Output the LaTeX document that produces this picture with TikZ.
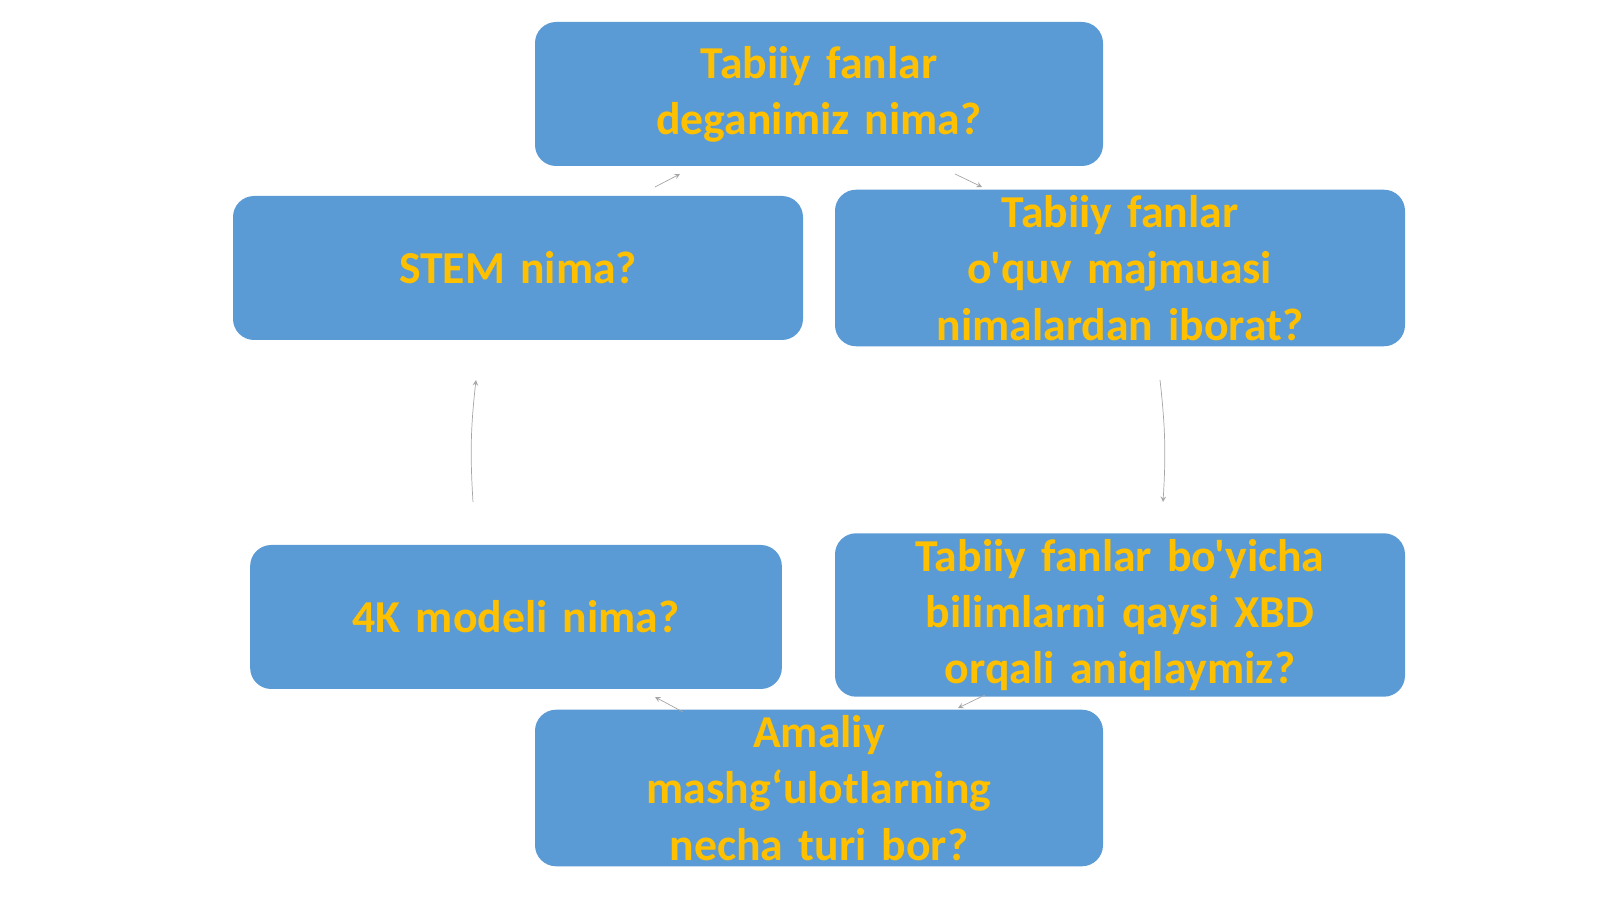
\documentclass[tikz,border=0pt]{standalone}
\usepackage{fontspec}
\defaultfontfeatures[\rmfamily]{}
\setmainfont{Carlito}
\usetikzlibrary{positioning}
\definecolor{boxblue}{HTML}{5B9BD5}
\definecolor{qgold}{HTML}{FFC000}
\newcommand\qfont{\bfseries\fontsize{26}{32}\selectfont\hyphenpenalty=10000\relax}
\tikzset{
  qbox/.style={draw=none,fill=boxblue,rounded corners=12pt,minimum height=2.88cm,
    text width=10.4cm,align=center,text=qgold,font=\qfont},
  link/.style={->,draw=gray!70,thin,>=stealth}
}
\begin{document}
\begin{tikzpicture}
  \useasboundingbox (0,0) rectangle (32,17.98);
  \node[qbox,minimum width=11.36cm] (what) at (16.38,16.10) {Tabiiy fanlar deganimiz nima?};
  \node[qbox,minimum width=11.4cm] (stem) at (10.36,12.62) {STEM nima?};
  \node[qbox,minimum width=11.4cm] (kit) at (22.4,12.62) {Tabiiy fanlar o'quv majmuasi nimalardan iborat?};
  \node[qbox,minimum width=10.34cm] (model) at (10.32,5.64) {4K modeli nima?};
  \node[qbox,minimum width=11.4cm] (xbd) at (22.4,5.68) {Tabiiy fanlar bo'yicha bilimlarni qaysi XBD orqali aniqlaymiz?};
  \node[qbox,minimum width=11.36cm] (drill) at (16.38,2.22) {Amaliy\\ mashg‘ulotlarning necha turi bor?};
  % connector ends
  \coordinate (a1) at (13.1,14.24); \coordinate (a2) at (13.6,14.50);
  \coordinate (b1) at (19.1,14.50); \coordinate (b2) at (19.64,14.24);
  \coordinate (c1) at (23.2,10.38); \coordinate (c2) at (23.26,7.94);
  \coordinate (d1) at (19.7,4.08); \coordinate (d2) at (19.16,3.82);
  \coordinate (e1) at (13.66,3.74); \coordinate (e2) at (13.1,4.04);
  \coordinate (f1) at (9.46,7.94); \coordinate (f2) at (9.52,10.38);
  \draw[link] (a1) -- (a2);
  \draw[link] (b1) -- (b2);
  \draw[link] (c1) to[bend left=5] (c2);
  \draw[link] (d1) -- (d2);
  \draw[link] (e1) -- (e2);
  \draw[link] (f1) to[bend left=5] (f2);
\end{tikzpicture}
\end{document}
